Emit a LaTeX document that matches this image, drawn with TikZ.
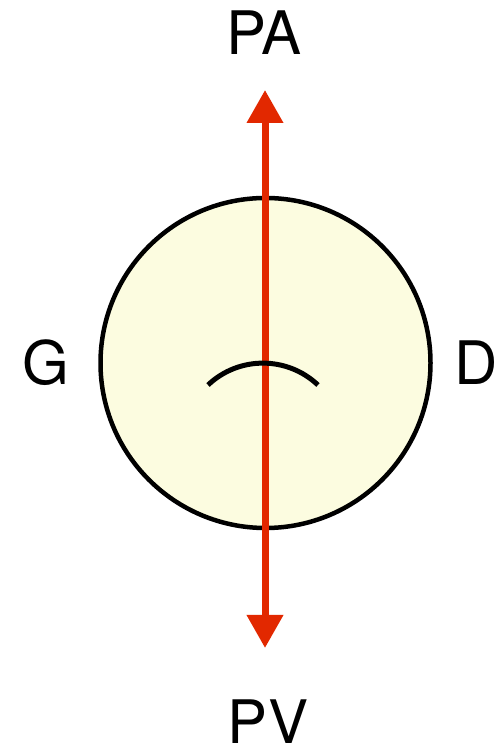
\documentclass[tikz,border=0pt]{standalone}
\usepackage{fontspec}
\setmainfont{TeX Gyre Heros}
\usetikzlibrary{arrows.meta}
\definecolor{bodyfill}{RGB}{252,252,224}
\definecolor{axisred}{RGB}{226,40,0}
\tikzset{
  lbl/.style={inner sep=0pt, font=\fontsize{60}{60}\selectfont},
  body/.style={circle, draw=black, line width=4.5pt, fill=bodyfill, minimum size=330pt, inner sep=0pt},
  axis/.style={draw=axisred, line width=7pt, {Triangle[width=35pt,length=33pt]}-{Triangle[width=35pt,length=33pt]}},
  mouth/.style={draw=black, line width=5pt}
}
\begin{document}
\begin{tikzpicture}[x=1pt,y=1pt]
\useasboundingbox (0,0) rectangle (500,751);
\node[body] (ball) at (265.5,388) {};
\coordinate (top) at (265,661);
\coordinate (bot) at (265,103);
\draw[axis] (bot) -- (top);
\coordinate (ml) at (208,366);
\draw[mouth] (ml) arc[start angle=133.4, end angle=46.6, radius=80];
\node[lbl] (pa) at (264,718) {PA};
\node[lbl] (pv) at (268,29) {PV};
\node[lbl] (g) at (46,388) {G};
\node[lbl] (d) at (476,388) {D};
\end{tikzpicture}
\end{document}
